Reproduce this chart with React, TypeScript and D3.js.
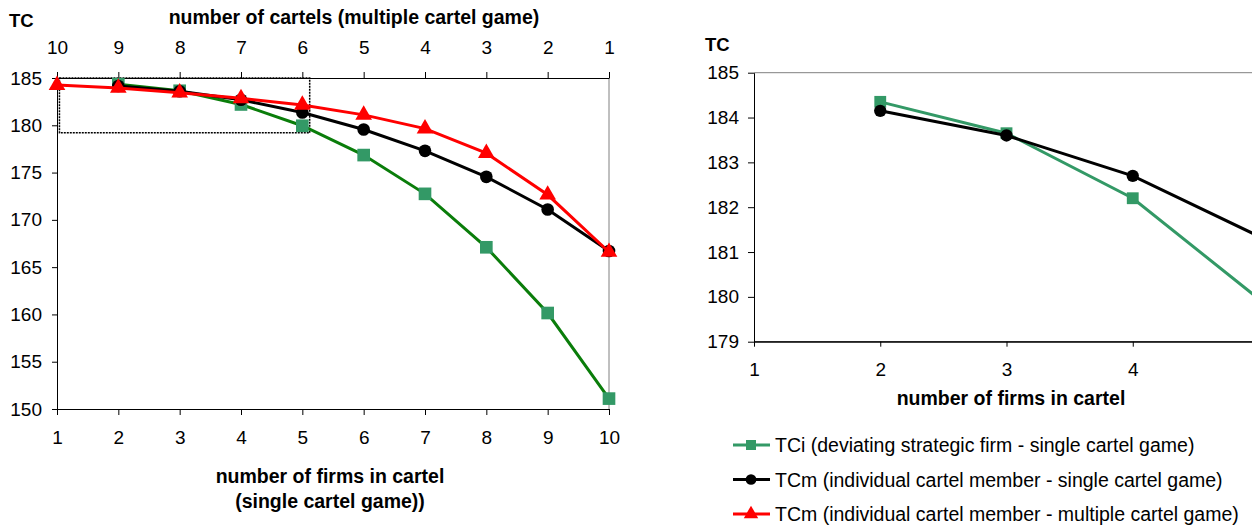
import React, { useEffect, useRef } from "react";
import * as d3 from "d3";

// number of firms in cartel (single cartel game)
const firms = [1, 2, 3, 4, 5, 6, 7, 8, 9, 10];
// number of cartels (multiple cartel game), shown on the top axis
const cartelLabels = ["10", "9", "8", "7", "6", "5", "4", "3", "2", "1"];

const tciFirms = [2, 3, 4, 5, 6, 7, 8, 9, 10];
const tciValues = [184.35, 183.65, 182.2, 179.95, 176.85, 172.75, 167.1, 160.15, 151.1];

const tcmSingleFirms = [2, 3, 4, 5, 6, 7, 8, 9, 10];
const tcmSingleValues = [184.15, 183.6, 182.7, 181.35, 179.55, 177.3, 174.55, 171.1, 166.7];

const tcmMultiValues = [184.25, 183.95, 183.45, 182.85, 182.15, 181.1, 179.65, 177.05, 172.65, 166.6];

const leftYTicks = [150, 155, 160, 165, 170, 175, 180, 185];
const rightYTicks = [179, 180, 181, 182, 183, 184, 185];
const rightXTicks = [1, 2, 3, 4];

const legendLabels = [
  "TCi (deviating strategic firm - single cartel game)",
  "TCm (individual cartel member - single cartel game)",
  "TCm (individual cartel member - multiple cartel game)",
];

const FONT = "'Liberation Sans', Arial, sans-serif";
const GREEN_LINE = "#0a7d0a";
const GREEN = "#339966";
const TICK = 19;
const TITLE = 19.5;

export default function App() {
  const ref = useRef<SVGSVGElement>(null);

  useEffect(() => {
    const svg = d3.select(ref.current);
    svg.selectAll("*").remove();
    svg.style("font-family", FONT);

    const square = d3.symbol().type(d3.symbolSquare);
    const circle = d3.symbol().type(d3.symbolCircle);
    const triangle = d3.symbol().type(d3.symbolTriangle);

    const styleAxis = (g, size) => {
      g.selectAll("text").attr("font-size", size).attr("fill", "#000").attr("font-family", FONT);
      g.selectAll("line").attr("stroke", "#000");
      g.select(".domain").attr("stroke", "#000");
    };

    // ---------- left chart ----------
    const x = d3.scaleLinear().domain([1, 10]).range([57, 609]);
    const y = d3.scaleLinear().domain([150, 185]).range([409, 78]);

    const left = svg.append("g");

    // right border (grey)
    left.append("line")
      .attr("x1", x(10)).attr("x2", x(10))
      .attr("y1", y(185)).attr("y2", y(150))
      .attr("stroke", "#808080").attr("stroke-width", 1);

    left.append("g")
      .attr("transform", `translate(0,${y(150)})`)
      .call(d3.axisBottom(x).tickValues(firms).tickFormat(d3.format("d")).tickSize(6).tickSizeOuter(0).tickPadding(16))
      .call(g => styleAxis(g, TICK));

    left.append("g")
      .attr("transform", `translate(${x(1)},0)`)
      .call(d3.axisLeft(y).tickValues(leftYTicks).tickFormat(d3.format("d")).tickSize(5).tickSizeOuter(0).tickPadding(10))
      .call(g => styleAxis(g, TICK));

    left.append("g")
      .attr("transform", `translate(0,${y(185)})`)
      .call(d3.axisTop(x).tickValues(firms).tickFormat((d, i) => cartelLabels[i]).tickSize(6).tickSizeOuter(0).tickPadding(18))
      .call(g => styleAxis(g, TICK));

    // dotted zoom box
    left.append("rect")
      .attr("x", x(1.04)).attr("y", y(185))
      .attr("width", x(5.12) - x(1.04)).attr("height", y(179.2) - y(185))
      .attr("fill", "none").attr("stroke", "#000").attr("stroke-width", 1.5)
      .attr("stroke-dasharray", "2,1");

    const lineL = d3.line<[number, number]>().x(d => x(d[0])).y(d => y(d[1]));

    const tci = tciFirms.map((f, i) => [f, tciValues[i]] as [number, number]);
    const tcmS = tcmSingleFirms.map((f, i) => [f, tcmSingleValues[i]] as [number, number]);
    const tcmM = firms.map((f, i) => [f, tcmMultiValues[i]] as [number, number]);

    left.append("path").attr("d", lineL(tci)).attr("fill", "none").attr("stroke", GREEN_LINE).attr("stroke-width", 3);
    left.selectAll(".sq").data(tci).join("path")
      .attr("transform", d => `translate(${x(d[0])},${y(d[1])})`)
      .attr("d", square.size(160)()).attr("fill", GREEN);

    left.append("path").attr("d", lineL(tcmS)).attr("fill", "none").attr("stroke", "#000").attr("stroke-width", 3);
    left.selectAll(".ci").data(tcmS).join("path")
      .attr("transform", d => `translate(${x(d[0])},${y(d[1])})`)
      .attr("d", circle.size(125)()).attr("fill", "#000");

    left.append("path").attr("d", lineL(tcmM)).attr("fill", "none").attr("stroke", "#ff0000").attr("stroke-width", 3);
    left.selectAll(".tr").data(tcmM).join("path")
      .attr("transform", d => `translate(${x(d[0])},${y(d[1])})`)
      .attr("d", triangle.size(120)()).attr("fill", "#ff0000");

    left.append("text").attr("x", 9).attr("y", 27).attr("font-size", 18.5).attr("font-weight", "bold").text("TC");
    left.append("text").attr("x", 354).attr("y", 24).attr("text-anchor", "middle")
      .attr("font-size", TITLE).attr("font-weight", "bold").text("number of cartels (multiple cartel game)");
    left.append("text").attr("x", 330).attr("y", 483).attr("text-anchor", "middle")
      .attr("font-size", TITLE).attr("font-weight", "bold").text("number of firms in cartel");
    left.append("text").attr("x", 330).attr("y", 508).attr("text-anchor", "middle")
      .attr("font-size", TITLE).attr("font-weight", "bold").text("(single cartel game))");

    // ---------- right chart (zoom) ----------
    const x2 = d3.scaleLinear().domain([1, 5]).range([754, 1259]);
    const y2 = d3.scaleLinear().domain([179, 185]).range([341.7, 72.7]);

    const right = svg.append("g");
    right.append("defs").append("clipPath").attr("id", "clipR")
      .append("rect").attr("x", x2(1)).attr("y", 0).attr("width", 600).attr("height", y2(179) + 10);

    right.append("line")
      .attr("x1", x2(1)).attr("x2", 1252).attr("y1", y2(185)).attr("y2", y2(185))
      .attr("stroke", "#808080").attr("stroke-width", 1);

    right.append("g")
      .attr("transform", `translate(0,${y2(179)})`)
      .call(d3.axisBottom(x2).tickValues(rightXTicks).tickFormat(d3.format("d")).tickSize(5).tickSizeOuter(0).tickPadding(16))
      .call(g => styleAxis(g, TICK));

    // axis line continues to the window edge
    right.append("line")
      .attr("x1", x2(1)).attr("x2", 1252).attr("y1", y2(179)).attr("y2", y2(179))
      .attr("stroke", "#000").attr("stroke-width", 1);

    right.append("g")
      .attr("transform", `translate(${x2(1)},0)`)
      .call(d3.axisLeft(y2).tickValues(rightYTicks).tickFormat(d3.format("d")).tickSize(6).tickSizeOuter(0).tickPadding(9))
      .call(g => styleAxis(g, TICK));

    const lineR = d3.line<[number, number]>().x(d => x2(d[0])).y(d => y2(d[1]));
    const plot = right.append("g").attr("clip-path", "url(#clipR)");

    plot.append("path").attr("d", lineR(tci)).attr("fill", "none").attr("stroke", GREEN).attr("stroke-width", 3);
    plot.selectAll(".sq").data(tci).join("path")
      .attr("transform", d => `translate(${x2(d[0])},${y2(d[1])})`)
      .attr("d", square.size(140)()).attr("fill", GREEN);

    plot.append("path").attr("d", lineR(tcmS)).attr("fill", "none").attr("stroke", "#000").attr("stroke-width", 3);
    plot.selectAll(".ci").data(tcmS).join("path")
      .attr("transform", d => `translate(${x2(d[0])},${y2(d[1])})`)
      .attr("d", circle.size(120)()).attr("fill", "#000");

    right.append("text").attr("x", 705).attr("y", 51).attr("font-size", 18.5).attr("font-weight", "bold").text("TC");
    right.append("text").attr("x", 1011).attr("y", 405).attr("text-anchor", "middle")
      .attr("font-size", TITLE).attr("font-weight", "bold").text("number of firms in cartel");

    // ---------- legend ----------
    const legendColors = [GREEN, "#000", "#ff0000"];
    const legendSymbols = [square.size(100)(), circle.size(90)(), triangle.size(90)()];
    const legend = svg.append("g");
    legendLabels.forEach((label, i) => {
      const ly = 445 + i * 34.5;
      legend.append("line").attr("x1", 733).attr("x2", 770).attr("y1", ly).attr("y2", ly)
        .attr("stroke", legendColors[i]).attr("stroke-width", 3);
      legend.append("path").attr("transform", `translate(751,${ly})`).attr("d", legendSymbols[i]).attr("fill", legendColors[i]);
      legend.append("text").attr("x", 775).attr("y", ly + 7).attr("font-size", 19.5).attr("fill", "#000").text(label);
    });
  }, []);

  return (
    <svg ref={ref} width={1252} height={528} style={{ position: "absolute", left: 0, top: 0, background: "#fff" }} />
  );
}
